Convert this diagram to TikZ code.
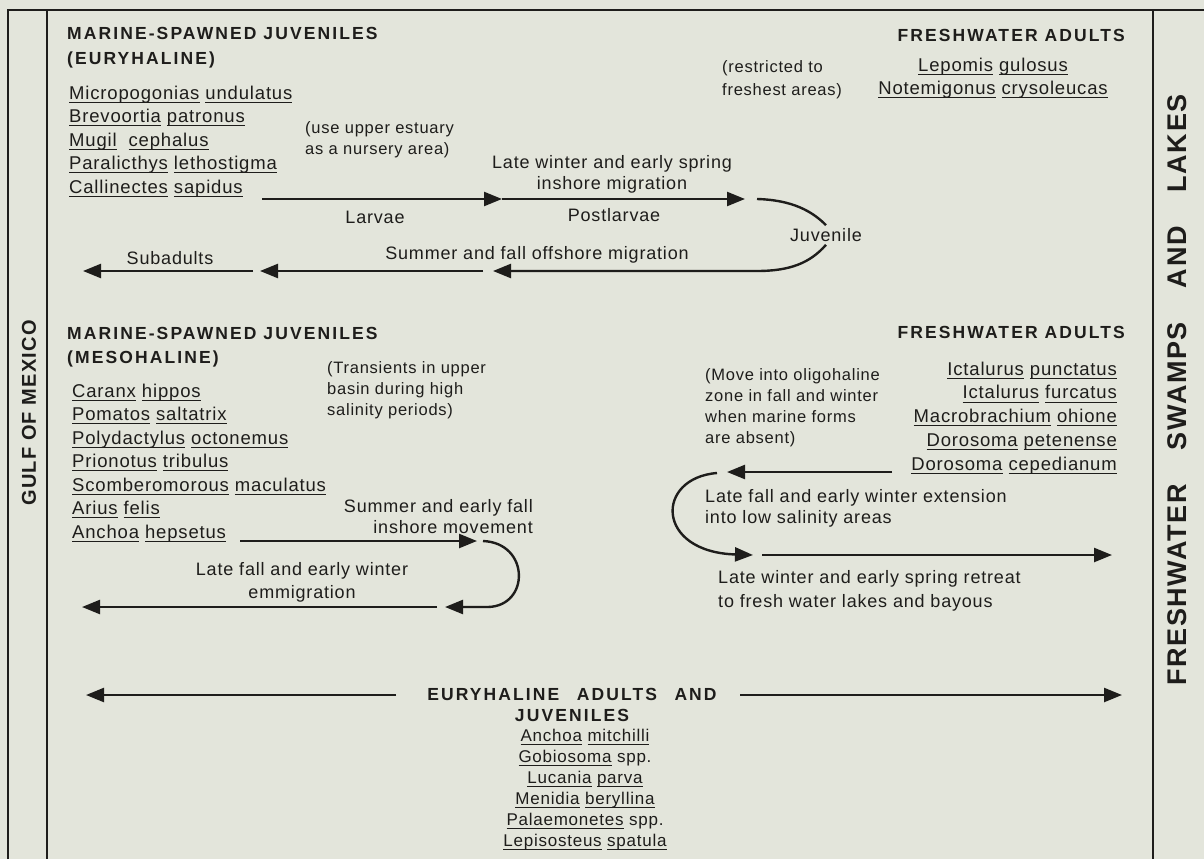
\documentclass[tikz,border=0pt]{standalone}
\usepackage{fontspec}
\usetikzlibrary{arrows.meta,positioning}
\definecolor{estBg}{HTML}{E3E5DB}
\definecolor{estInk}{HTML}{1E1D1B}
\newfontfamily\estBody{Liberation Sans}[LetterSpace=4.5]
\newfontfamily\estHead{Liberation Sans}[LetterSpace=12]
\newfontfamily\estSide{Liberation Sans}[LetterSpace=6]
% species names: each word underlined on its own
\newcommand\ulname[1]{\setbox0=\hbox{#1}\rlap{\rule[-3.8pt]{\wd0}{1.1pt}}\box0\relax}
\tikzset{
  txt/.style={inner sep=0pt,text=estInk,font=\estBody\fontsize{18}{21}\selectfont},
  note/.style={txt,font=\estBody\fontsize{16.5}{21}\selectfont},
  sp/.style={txt,font=\estBody\fontsize{18.5}{23.5}\selectfont},
  head/.style={txt,font=\estHead\bfseries\fontsize{17.5}{24}\selectfont},
  side/.style={txt,rotate=90,font=\estSide\bfseries\fontsize{20}{20}\selectfont},
  flow/.style={draw=estInk,line width=2.4pt,-{Triangle[length=18pt,width=14pt]}},
  bare/.style={draw=estInk,line width=2.4pt},
  frame/.style={draw=estInk,line width=2pt}
}
\begin{document}
\begin{tikzpicture}[x=1pt,y=-1pt]
  \fill[estBg] (0,0) rectangle (1204,859);
  \useasboundingbox (0,0) rectangle (1204,859);
  % frame and the two shores
  \draw[frame] (8,859) -- (8,10) -- (1204,10);
  \draw[frame] (47,10) -- (47,859);
  \draw[frame] (1153,10) -- (1153,859);
  \node[side] (gulf) at (29,413) {GULF OF MEXICO};
  \node[side,font=\estSide\bfseries\fontsize{27}{27}\selectfont] (swamp) at (1177,390)
    {FRESHWATER\hspace{34pt}SWAMPS\hspace{34pt}AND\hspace{34pt}LAKES};

  % euryhaline juveniles (multi-line nodes sit on their last baseline)
  \node[head,anchor=base west,align=left,font=\estHead\bfseries\fontsize{17.5}{25}\selectfont] (eurHead) at (67,65)
    {MARINE-SPAWNED JUVENILES\\(EURYHALINE)};
  \node[sp,anchor=base west,align=left] (eurList) at (69,193)
    {\ulname{Micropogonias} \ulname{undulatus}\\
     \ulname{Brevoortia} \ulname{patronus}\\
     \ulname{Mugil}\ \ \ulname{cephalus}\\
     \ulname{Paralicthys} \ulname{lethostigma}\\
     \ulname{Callinectes} \ulname{sapidus}};
  \node[note,anchor=base west,align=left] (eurNote) at (305,154) {(use upper estuary\\as a nursery area)};
  \node[head,anchor=base east] (fwHead1) at (1125,42) {FRESHWATER ADULTS};
  \node[note,anchor=base west,align=left,font=\estBody\fontsize{16.5}{23}\selectfont] (fwNote1) at (722,95)
    {(restricted to\\freshest areas)};
  \node[sp,anchor=base,align=center] (fwList1) at (993,94.5)
    {\ulname{Lepomis} \ulname{gulosus}\\\ulname{Notemigonus} \ulname{crysoleucas}};

  \node[txt,anchor=base,align=center] (inLbl) at (612,189) {Late winter and early spring\\inshore migration};
  \node[txt,anchor=base] (larvae) at (375,223) {Larvae};
  \node[txt,anchor=base] (postl) at (614,221) {Postlarvae};
  \node[txt] (juv) at (826,235) {Juvenile};
  \node[txt,anchor=base] (offLbl) at (537,259) {Summer and fall offshore migration};
  \node[txt,anchor=base] (subad) at (170,264) {Subadults};

  \coordinate (inA) at (262,199);
  \coordinate (inB) at (502,199);
  \coordinate (inC) at (745,199);
  \coordinate (juvIn) at (757,199);
  \coordinate (offA) at (493,271);
  \coordinate (offB) at (483,271);
  \coordinate (offC) at (260,271);
  \coordinate (offD) at (253,271);
  \coordinate (offE) at (83,271);
  \draw[flow] (inA) -- (inB);
  \draw[flow] (inB) -- (inC);
  \draw[bare] (juvIn) .. controls (792,200) and (812,211) .. ([yshift=3pt]juv.north);
  \draw[flow] ([yshift=-3pt]juv.south) .. controls (810,263) and (790,271) .. (757,271) -- (offA);
  \draw[flow] (offB) -- (offC);
  \draw[flow] (offD) -- (offE);

  % mesohaline juveniles
  \node[head,anchor=base west,align=left] (mesHead) at (67,363) {MARINE-SPAWNED JUVENILES\\(MESOHALINE)};
  \node[sp,anchor=base west,align=left] (mesList) at (72,538)
    {\ulname{Caranx} \ulname{hippos}\\
     \ulname{Pomatos} \ulname{saltatrix}\\
     \ulname{Polydactylus} \ulname{octonemus}\\
     \ulname{Prionotus} \ulname{tribulus}\\
     \ulname{Scomberomorous} \ulname{maculatus}\\
     \ulname{Arius} \ulname{felis}\\
     \ulname{Anchoa} \ulname{hepsetus}};
  \node[note,anchor=base west,align=left] (mesNote) at (327,415)
    {(Transients in upper\\basin during high\\salinity periods)};
  \node[txt,anchor=base east,align=right] (mesInLbl) at (533,533) {Summer and early fall\\inshore movement};
  \node[txt,anchor=base,align=center,font=\estBody\fontsize{18}{23}\selectfont] (mesOutLbl) at (302,598)
    {Late fall and early winter\\emmigration};

  \coordinate (mesA) at (240,541);
  \coordinate (mesB) at (477,541);
  \coordinate (mesC) at (483,541);
  \coordinate (mesD) at (445,607);
  \coordinate (mesE) at (437,607);
  \coordinate (mesF) at (82,607);
  \draw[flow] (mesA) -- (mesB);
  \draw[flow] (mesC) .. controls (530,543) and (530,606) .. (488,607) -- (mesD);
  \draw[flow] (mesE) -- (mesF);

  % freshwater adults reaching into the estuary
  \node[head,anchor=base east] (fwHead2) at (1125,338) {FRESHWATER ADULTS};
  \node[note,anchor=base west,align=left] (fwNote2) at (705,443)
    {(Move into oligohaline\\zone in fall and winter\\when marine forms\\are absent)};
  \node[sp,anchor=base east,align=right,font=\estBody\fontsize{18.5}{23.7}\selectfont] (fwList2) at (1117,470)
    {\ulname{Ictalurus} \ulname{punctatus}\\
     \ulname{Ictalurus} \ulname{furcatus}\\
     \ulname{Macrobrachium} \ulname{ohione}\\
     \ulname{Dorosoma} \ulname{petenense}\\
     \ulname{Dorosoma} \ulname{cepedianum}};
  \node[txt,anchor=base west,align=left] (extLbl) at (705,523)
    {Late fall and early winter extension\\into low salinity areas};
  \node[txt,anchor=base west,align=left,font=\estBody\fontsize{18}{24}\selectfont] (retLbl) at (718,607)
    {Late winter and early spring retreat\\to fresh water lakes and bayous};

  \coordinate (extA) at (892,472);
  \coordinate (extB) at (727,472);
  \coordinate (extC) at (717,473);
  \coordinate (retA) at (753,555);
  \coordinate (retB) at (762,555);
  \coordinate (retC) at (1112,555);
  \draw[flow] (extA) -- (extB);
  \draw[flow] (extC) .. controls (655,478) and (655,552) .. (retA);
  \draw[flow] (retB) -- (retC);

  % euryhaline adults and juveniles, whole estuary
  \node[head,anchor=base,align=center,font=\estHead\bfseries\fontsize{17.5}{21}\selectfont] (euHead) at (572,721)
    {EURYHALINE\hspace{1em}ADULTS\hspace{1em}AND\\JUVENILES};
  \node[sp,anchor=base,align=center,font=\estBody\fontsize{17}{21}\selectfont] (euList) at (585,846)
    {\ulname{Anchoa} \ulname{mitchilli}\\
     \ulname{Gobiosoma} spp.\\
     \ulname{Lucania} \ulname{parva}\\
     \ulname{Menidia} \ulname{beryllina}\\
     \ulname{Palaemonetes} spp.\\
     \ulname{Lepisosteus} \ulname{spatula}};
  \coordinate (euL1) at (396,695);
  \coordinate (euL2) at (86,695);
  \coordinate (euR1) at (740,695);
  \coordinate (euR2) at (1122,695);
  \draw[flow] (euL1) -- (euL2);
  \draw[flow] (euR1) -- (euR2);
\end{tikzpicture}
\end{document}
